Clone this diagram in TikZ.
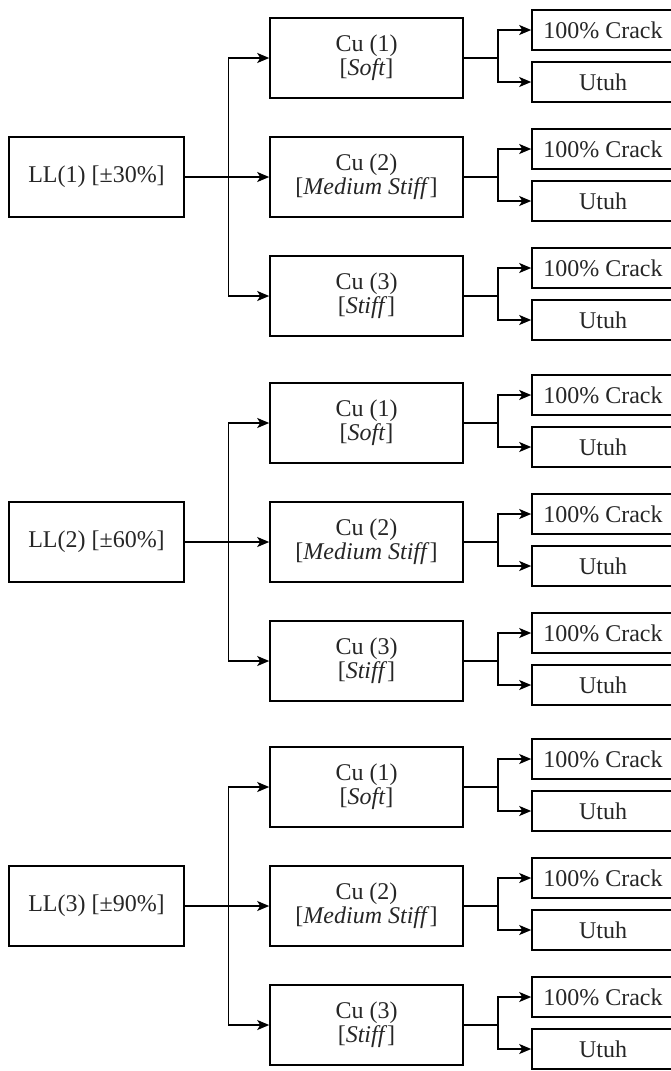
\documentclass[tikz,border=0pt]{standalone}
\usepackage{fontspec}
\setmainfont{Liberation Serif}
\usetikzlibrary{arrows.meta,positioning}

% outcome text sits left in a box that runs past the page edge
\newcommand{\outtxt}[1]{\makebox[79pt][l]{\makebox[71pt]{#1}}}

\begin{document}
\begin{tikzpicture}[x=0.5pt, y=-0.5pt,
    box/.style={draw, line width=0.8pt, minimum height=40pt, align=center, font=\fontsize{12}{11}\selectfont, text=black!85},
    llbox/.style={box, minimum width=87.5pt},
    cubox/.style={box, minimum width=96.5pt},
    outbox/.style={box, inner xsep=0pt, minimum height=20pt},
    arr/.style={-{Stealth[length=6pt, width=5pt, inset=1.5pt]}, line width=0.8pt}
]
\useasboundingbox (0,0) rectangle (670,1071);

\foreach \b/\yc/\pct in {1/177/30, 2/542/60, 3/906/90} {
  \node[llbox] (ll\b) at (96.5,\yc) {LL(\b) [±\pct\%]};
  \foreach \c/\soil in {1/Soft, 2/Medium Stiff, 3/Stiff} {
    \node[cubox] (cu\b\c) at (366.5,{\yc+(\c-2)*119}) {Cu (\c)\\{[}\textit{\soil}{]}};
    \node[outbox] (crack\b\c) at (611,{\yc+(\c-2)*119-28}) {\outtxt{100\% Crack}};
    \node[outbox] (utuh\b\c) at (611,{\yc+(\c-2)*119+24}) {\outtxt{Utuh}};
    \draw[arr] (ll\b.east) -- ++(43.5,0) |- (cu\b\c.west);
    \draw[arr] (cu\b\c.east) -- ++(34,0) |- (crack\b\c.west);
    \draw[arr] (cu\b\c.east) -- ++(34,0) |- (utuh\b\c.west);
  }
}
\end{tikzpicture}
\end{document}
